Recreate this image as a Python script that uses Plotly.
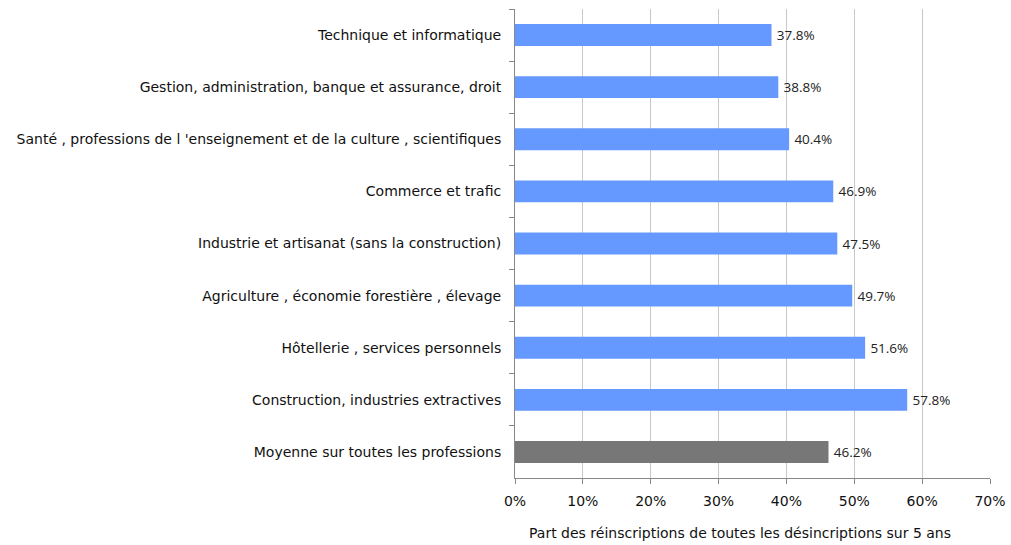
import plotly.graph_objects as go

# Share of re-registrations among all de-registrations over 5 years, by occupation group
categories = [
    "Technique et informatique",
    "Gestion, administration, banque et assurance, droit",
    "Santé , professions de l 'enseignement et de la culture , scientifiques",
    "Commerce et trafic",
    "Industrie et artisanat (sans la construction)",
    "Agriculture , économie forestière , élevage",
    "Hôtellerie , services personnels",
    "Construction, industries extractives",
    "Moyenne sur toutes les professions",
]
values = [37.8, 38.8, 40.4, 46.9, 47.5, 49.7, 51.6, 57.8, 46.2]
x_ticks = [0, 10, 20, 30, 40, 50, 60, 70]
x_title = "Part des réinscriptions de toutes les désincriptions sur 5 ans"

BLUE = "#6699FF"
GREY = "#777777"
colors = [GREY if c.startswith("Moyenne") else BLUE for c in categories]

label_font = "DejaVu Sans, Verdana, sans-serif"
value_font = "Open Sans, sans-serif"
FS = 14

fig = go.Figure(
    go.Bar(
        x=values,
        y=categories,
        orientation="h",
        marker=dict(color=colors, line=dict(width=0)),
        width=0.42,
        text=[f"\u2009{v:.1f}%" for v in values],
        textposition="outside",
        textfont=dict(family=value_font, size=13.5, color="#222222"),
        cliponaxis=False,
        hoverinfo="skip",
    )
)

fig.update_layout(
    width=1011,
    height=545,
    margin=dict(l=515, r=21, t=9, b=67, autoexpand=False),
    paper_bgcolor="white",
    plot_bgcolor="white",
    showlegend=False,
    font=dict(family=label_font, size=FS, color="#111111"),
    annotations=[
        dict(
            text=x_title,
            xref="paper", yref="paper",
            x=0.4737, y=0,
            xanchor="center", yanchor="middle",
            yshift=-55,
            showarrow=False,
            font=dict(family=label_font, size=FS, color="#111111"),
        )
    ],
)

fig.update_xaxes(
    range=[0, 70],
    tickvals=x_ticks,
    ticktext=[f"{t}%" for t in x_ticks],
    automargin=False,
    showgrid=True,
    gridcolor="#C8C8C8",
    gridwidth=1,
    zeroline=False,
    showline=True,
    linecolor="#888888",
    linewidth=1,
    ticks="outside",
    ticklen=5,
    tickcolor="#888888",
    ticklabelstandoff=5,
    tickfont=dict(family=label_font, size=FS, color="#111111"),
)

fig.update_yaxes(
    autorange="reversed",
    automargin=False,
    showgrid=False,
    zeroline=False,
    showline=True,
    linecolor="#888888",
    linewidth=1,
    ticks="outside",
    tickson="boundaries",
    ticklen=5,
    tickcolor="#888888",
    ticklabelstandoff=10,
    tickfont=dict(family=label_font, size=FS, color="#111111"),
)

fig.write_html("out.html")
